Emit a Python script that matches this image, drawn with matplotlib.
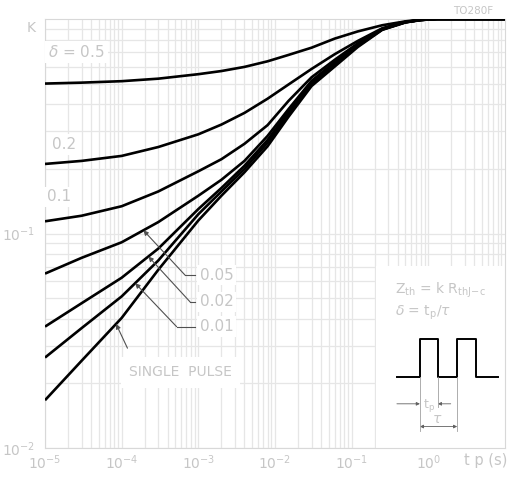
import numpy as np
import matplotlib.pyplot as plt
from matplotlib.patches import Rectangle

# pulse duration (s) and normalised thermal impedance K for each duty cycle
tp = [1e-5, 3e-5, 1e-4, 3e-4, 1e-3, 2e-3, 4e-3, 8e-3, 1.5e-2, 3e-2, 6e-2, 0.12, 0.25, 0.5, 0.8, 1.3, 10]
k_d05 = [0.50, 0.505, 0.513, 0.527, 0.553, 0.572, 0.598, 0.635, 0.68, 0.735, 0.81, 0.875, 0.935, 0.975, 0.993, 1.0, 1.0]
k_d02 = [0.211, 0.218, 0.23, 0.253, 0.29, 0.322, 0.365, 0.425, 0.495, 0.585, 0.685, 0.79, 0.905, 0.97, 0.99, 1.0, 1.0]
k_d01 = [0.114, 0.121, 0.134, 0.157, 0.195, 0.222, 0.262, 0.32, 0.415, 0.535, 0.645, 0.77, 0.9, 0.968, 0.99, 1.0, 1.0]
k_d005 = [0.065, 0.077, 0.091, 0.113, 0.15, 0.178, 0.218, 0.285, 0.38, 0.515, 0.63, 0.762, 0.897, 0.967, 0.99, 1.0, 1.0]
k_d002 = [0.0368, 0.0473, 0.0622, 0.085, 0.13, 0.163, 0.207, 0.273, 0.37, 0.505, 0.62, 0.755, 0.895, 0.966, 0.99, 1.0, 1.0]
k_d001 = [0.0264, 0.0362, 0.0509, 0.0748, 0.123, 0.157, 0.2, 0.265, 0.36, 0.497, 0.61, 0.748, 0.892, 0.965, 0.99, 1.0, 1.0]
k_single = [0.0167, 0.0255, 0.0404, 0.0677, 0.115, 0.15, 0.193, 0.255, 0.35, 0.487, 0.60, 0.74, 0.89, 0.963, 0.99, 1.0, 1.0]

x_ticks = [1e-5, 1e-4, 1e-3, 1e-2, 1e-1, 1e0]
x_labels = [r'$10^{-5}$', r'$10^{-4}$', r'$10^{-3}$', r'$10^{-2}$', r'$10^{-1}$', r'$10^{0}$']
y_ticks = [1e-2, 1e-1]
y_labels = [r'$10^{-2}$', r'$10^{-1}$']

TXT = '#c6c6c6'
GRID = '#e6e6e6'

fig = plt.figure(figsize=(5.08, 4.8), dpi=100)
ax = fig.add_axes([45/508, 32/480, 460/508, 429/480])
ax.set_xscale('log')
ax.set_yscale('log')
ax.set_xlim(1e-5, 10)
ax.set_ylim(1e-2, 1.0)
ax.set_axisbelow(True)
ax.grid(True, which='both', color=GRID, lw=0.9)
for s in ax.spines.values():
    s.set_color('#d8d8d8')
ax.tick_params(which='both', length=0, colors=TXT, labelsize=10)
ax.set_xticks(x_ticks, x_labels)
ax.set_yticks(y_ticks, y_labels)
ax.tick_params(axis='x', pad=4)
ax.tick_params(axis='y', pad=7)

#curves
for k in [k_d05, k_d02, k_d01, k_d005, k_d002, k_d001, k_single]:
    ax.plot(tp, k, color='black', lw=1.9, zorder=3, solid_capstyle='butt', solid_joinstyle='round')

white = dict(facecolor='white', edgecolor='none', pad=2)
ax.text(1.1e-5, 0.70, r'$\delta$ = 0.5', color=TXT, fontsize=11, va='center', bbox=white)
ax.text(1.25e-5, 0.26, '0.2', color=TXT, fontsize=11, va='center', bbox=white)
ax.text(1.05e-5, 0.148, '0.1', color=TXT, fontsize=11, va='center', bbox=white)
ax.text(0.93, 1.018, 'TO280F', color=TXT, fontsize=7.5, ha='center', va='center', transform=ax.transAxes)
fig.text(31/508, 1 - 28/480, 'K', color=TXT, fontsize=10, ha='center', va='center')
fig.text(486/508, 1 - 460/480, 't p (s)', color=TXT, fontsize=10.5, ha='center', va='center')

# leader lines for the lower curves
def kval(t, k):
    return 10 ** np.interp(np.log10(t), np.log10(tp), np.log10(k))

leaders = [
    ('0.05', k_d005, 1.92e-4, 6.7e-4, 0.064),
    ('0.02', k_d002, 2.23e-4, 7.8e-4, 0.048),
    ('0.01', k_d001, 1.5e-4, 5.2e-4, 0.0368),
]
for lab, k, t_tip, t_corner, y_corner in leaders:
    ax.annotate('', xy=(t_tip, kval(t_tip, k)), xytext=(t_corner, y_corner),
                arrowprops=dict(arrowstyle='-|>', color='#505050', lw=0.8, mutation_scale=7,
                                shrinkA=0, shrinkB=0), zorder=4)
    ax.plot([t_corner, 9.1e-4], [y_corner, y_corner], color='#505050', lw=0.8, zorder=4)
    ax.text(1.05e-3, y_corner, lab, color=TXT, fontsize=11, va='center', bbox=white)

ax.annotate('', xy=(8.45e-5, kval(8.45e-5, k_single)), xytext=(1.19e-4, 0.0292),
            arrowprops=dict(arrowstyle='-|>', color='#505050', lw=0.8, mutation_scale=7,
                            shrinkA=0, shrinkB=0), zorder=4)
ax.text(1.25e-4, 0.0225, 'SINGLE  PULSE', color=TXT, fontsize=10, va='center',
        bbox=dict(facecolor='white', edgecolor='none', pad=6))

# inset with formulas and pulse sketch
ax.add_patch(Rectangle((0.72, 0.0), 0.28, 0.424, transform=ax.transAxes,
                       facecolor='white', edgecolor='none', zorder=1))
ax.text(0.761, 0.368, r'$\mathrm{Z_{th}}$ = k $\mathrm{R_{thJ\!-\!c}}$', color=TXT, fontsize=10,
        transform=ax.transAxes, va='center')
ax.text(0.761, 0.316, r'$\delta$ = $\mathrm{t_p}/\tau$', color=TXT, fontsize=10,
        transform=ax.transAxes, va='center')

px = [0.765, 0.815, 0.815, 0.854, 0.854, 0.896, 0.896, 0.937, 0.937, 0.985]
py = [0.165, 0.165, 0.253, 0.253, 0.165, 0.165, 0.253, 0.253, 0.165, 0.165]
ax.plot(px, py, color='black', lw=1.4, transform=ax.transAxes, zorder=4)
dim = dict(color='#a0a0a0', lw=0.6, transform=ax.transAxes, zorder=4)
ax.plot([0.815, 0.815], [0.165, 0.04], **dim)
ax.plot([0.854, 0.854], [0.165, 0.095], **dim)
ax.plot([0.896, 0.896], [0.165, 0.04], **dim)
arr = dict(arrowstyle='-|>', color='#606060', lw=0.6, mutation_scale=5, shrinkA=0, shrinkB=0)
ax.annotate('', xy=(0.815, 0.103), xytext=(0.765, 0.103), xycoords='axes fraction', arrowprops=arr)
ax.annotate('', xy=(0.854, 0.103), xytext=(0.882, 0.103), xycoords='axes fraction', arrowprops=arr)
ax.annotate('', xy=(0.815, 0.05), xytext=(0.896, 0.05), xycoords='axes fraction',
            arrowprops=dict(arrowstyle='<|-|>', color='#606060', lw=0.6, mutation_scale=5,
                            shrinkA=0, shrinkB=0))
ax.text(0.834, 0.098, r'$\mathrm{t_p}$', color=TXT, fontsize=9, ha='center', va='center',
        transform=ax.transAxes)
ax.text(0.852, 0.068, r'$\tau$', color=TXT, fontsize=10, ha='center', va='center',
        transform=ax.transAxes)

plt.savefig('out.png', dpi=100)
